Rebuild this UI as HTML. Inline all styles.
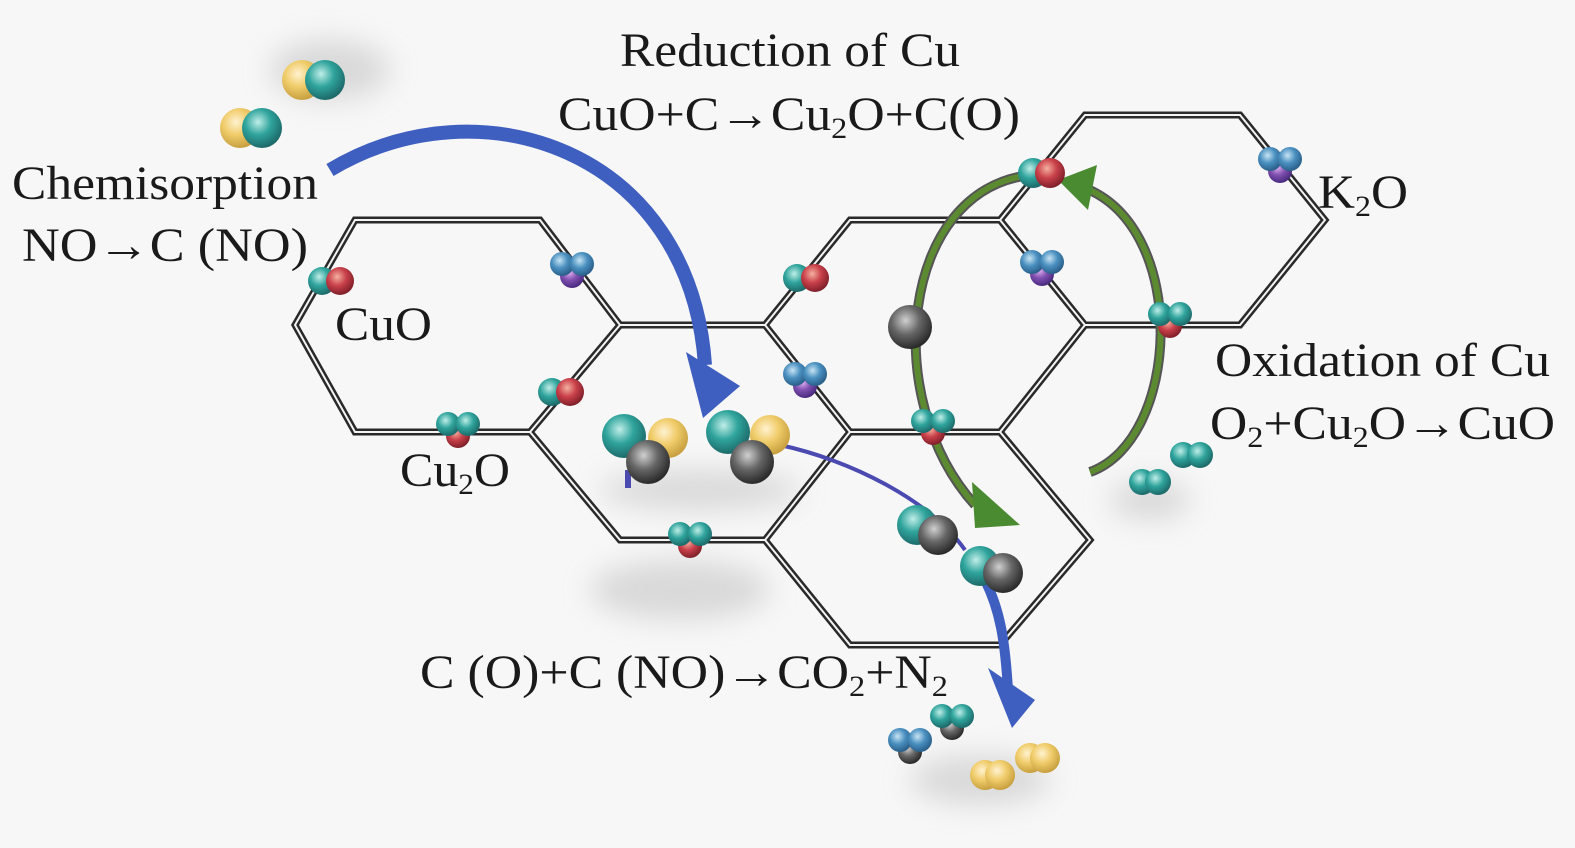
<!DOCTYPE html>
<html><head><meta charset="utf-8"><style>
html,body{margin:0;padding:0;background:#f7f7f7;}
svg{display:block}
text{font-family:"Liberation Serif",serif;font-size:48px;fill:#1a1a1a}
</style></head><body>
<svg width="1575" height="848" viewBox="0 0 1575 848" xmlns="http://www.w3.org/2000/svg">
<defs>
<radialGradient id="t" cx="40%" cy="35%" r="65%"><stop offset="0" stop-color="#bfeee8"/><stop offset=".5" stop-color="#2fa49c"/><stop offset="1" stop-color="#1d6a6a"/></radialGradient>
<radialGradient id="r" cx="40%" cy="35%" r="65%"><stop offset="0" stop-color="#f5b0a0"/><stop offset=".5" stop-color="#c9404a"/><stop offset="1" stop-color="#80202a"/></radialGradient>
<radialGradient id="b" cx="40%" cy="35%" r="65%"><stop offset="0" stop-color="#c8e4f4"/><stop offset=".5" stop-color="#4a90c0"/><stop offset="1" stop-color="#2a5f8a"/></radialGradient>
<radialGradient id="p" cx="40%" cy="35%" r="65%"><stop offset="0" stop-color="#e0b0f0"/><stop offset=".5" stop-color="#8050b0"/><stop offset="1" stop-color="#4a2a80"/></radialGradient>
<radialGradient id="y" cx="40%" cy="35%" r="65%"><stop offset="0" stop-color="#fff2d0"/><stop offset=".5" stop-color="#f0cc6a"/><stop offset="1" stop-color="#c8a040"/></radialGradient>
<radialGradient id="g" cx="40%" cy="35%" r="65%"><stop offset="0" stop-color="#d0d0d0"/><stop offset=".5" stop-color="#666"/><stop offset="1" stop-color="#2a2a2a"/></radialGradient>
<filter id="bl"><feGaussianBlur stdDeviation="14"/></filter>
<g id="hc" fill="none">
<path d="M295,325 L355,220 L540,220 L620,325 L530,432 L355,432 Z"/>
<path d="M620,325 L765,325 L850,432 L765,540 L620,540 L530,432"/>
<path d="M765,325 L850,220 L1000,220 L1085,325 L1000,432 L850,432"/>
<path d="M1000,220 L1085,115 L1240,115 L1325,220 L1240,325 L1085,325"/>
<path d="M1000,432 L1090,540 L1000,645 L850,645 L765,540"/>
</g>
<g id="bp"><circle cx="0" cy="8" r="12" fill="url(#p)"/><circle cx="-10" cy="-4" r="12" fill="url(#b)"/><circle cx="10" cy="-4" r="12" fill="url(#b)"/></g>
<g id="tr"><circle cx="0" cy="8" r="12" fill="url(#r)"/><circle cx="-10" cy="-4" r="12" fill="url(#t)"/><circle cx="10" cy="-4" r="12" fill="url(#t)"/></g>
</defs>
<!-- shadows -->
<g fill="#ccc" filter="url(#bl)" opacity=".7">
<ellipse cx="330" cy="70" rx="60" ry="30"/><ellipse cx="680" cy="590" rx="90" ry="30"/>
<ellipse cx="1150" cy="500" rx="40" ry="20"/><ellipse cx="980" cy="780" rx="70" ry="25"/>
<ellipse cx="700" cy="490" rx="100" ry="20"/>
</g>
<!-- honeycomb -->
<use href="#hc" stroke="#2a2a2a" stroke-width="7"/>
<use href="#hc" stroke="#f4f4f4" stroke-width="2"/>
<!-- blue arrows -->
<path d="M330,170 C480,80 690,150 705,365" fill="none" stroke="#3f5fc0" stroke-width="14"/>
<polygon points="686,352 740,386 703,418" fill="#3f5fc0"/>
<path d="M780,445 C850,460 930,500 965,550" fill="none" stroke="#4a4ab0" stroke-width="4"/>
<path d="M985,580 C1000,610 1005,640 1008,690" fill="none" stroke="#3f5fc0" stroke-width="10"/>
<polygon points="988,668 1035,700 1012,728" fill="#3f5fc0"/>
<path d="M628,470 L628,488" stroke="#4a4ab0" stroke-width="6"/>
<!-- green loop -->
<path d="M1090,472 C1180,440 1190,230 1085,188" fill="none" stroke="#555" stroke-width="10"/>
<path d="M1090,472 C1180,440 1190,230 1085,188" fill="none" stroke="#5b8a30" stroke-width="6"/>
<polygon points="1097,165 1058,180 1088,210" fill="#4a8a30"/>
<path d="M1030,175 C900,190 880,400 975,505" fill="none" stroke="#555" stroke-width="10"/>
<path d="M1030,175 C900,190 880,400 975,505" fill="none" stroke="#5b8a30" stroke-width="6"/>
<polygon points="972,482 1020,525 975,528" fill="#4a8a30"/>
<!-- molecules -->
<g>
<circle cx="302" cy="80" r="20" fill="url(#y)"/><circle cx="325" cy="80" r="20" fill="url(#t)"/>
<circle cx="240" cy="128" r="20" fill="url(#y)"/><circle cx="262" cy="128" r="20" fill="url(#t)"/>
<circle cx="322" cy="281" r="14" fill="url(#t)"/><circle cx="340" cy="281" r="14" fill="url(#r)"/>
<circle cx="552" cy="392" r="14" fill="url(#t)"/><circle cx="570" cy="392" r="14" fill="url(#r)"/>
<circle cx="797" cy="278" r="14" fill="url(#t)"/><circle cx="815" cy="278" r="14" fill="url(#r)"/>
<circle cx="1033" cy="173" r="15" fill="url(#t)"/><circle cx="1050" cy="173" r="15" fill="url(#r)"/>
<use href="#bp" x="572" y="268"/><use href="#bp" x="805" y="378"/><use href="#bp" x="1042" y="266"/><use href="#bp" x="1280" y="163"/>
<use href="#tr" x="458" y="428"/><use href="#tr" x="690" y="538"/><use href="#tr" x="933" y="425"/><use href="#tr" x="1170" y="318"/>
<circle cx="910" cy="327" r="22" fill="url(#g)"/>
<circle cx="668" cy="438" r="20" fill="url(#y)"/><circle cx="624" cy="436" r="22" fill="url(#t)"/><circle cx="648" cy="462" r="22" fill="url(#g)"/>
<circle cx="770" cy="435" r="20" fill="url(#y)"/><circle cx="728" cy="432" r="22" fill="url(#t)"/><circle cx="752" cy="462" r="22" fill="url(#g)"/>
<circle cx="917" cy="525" r="20" fill="url(#t)"/><circle cx="938" cy="535" r="20" fill="url(#g)"/>
<circle cx="980" cy="566" r="20" fill="url(#t)"/><circle cx="1003" cy="573" r="20" fill="url(#g)"/>
<circle cx="910" cy="752" r="12" fill="url(#g)"/><circle cx="900" cy="740" r="12" fill="url(#b)"/><circle cx="920" cy="740" r="12" fill="url(#b)"/>
<circle cx="952" cy="728" r="12" fill="url(#g)"/><circle cx="942" cy="716" r="12" fill="url(#t)"/><circle cx="962" cy="716" r="12" fill="url(#t)"/>
<circle cx="985" cy="775" r="15" fill="url(#y)"/><circle cx="1000" cy="775" r="15" fill="url(#y)"/>
<circle cx="1030" cy="758" r="15" fill="url(#y)"/><circle cx="1045" cy="758" r="15" fill="url(#y)"/>
<circle cx="1142" cy="482" r="13" fill="url(#t)"/><circle cx="1158" cy="482" r="13" fill="url(#t)"/>
<circle cx="1183" cy="455" r="13" fill="url(#t)"/><circle cx="1200" cy="455" r="13" fill="url(#t)"/>
</g>
<!-- text -->
<text x="620" y="66" textLength="340" lengthAdjust="spacingAndGlyphs">Reduction of Cu</text>
<text x="558" y="130" textLength="462" lengthAdjust="spacingAndGlyphs">CuO+C→Cu<tspan font-size="30" dy="8">2</tspan><tspan dy="-8">O+C(O)</tspan></text>
<text x="12" y="199" textLength="306" lengthAdjust="spacingAndGlyphs">Chemisorption</text>
<text x="22" y="261" textLength="286" lengthAdjust="spacingAndGlyphs">NO→C (NO)</text>
<text x="335" y="340" textLength="97" lengthAdjust="spacingAndGlyphs">CuO</text>
<text x="400" y="486" textLength="110" lengthAdjust="spacingAndGlyphs">Cu<tspan font-size="30" dy="8">2</tspan><tspan dy="-8">O</tspan></text>
<text x="1318" y="208" textLength="90" lengthAdjust="spacingAndGlyphs">K<tspan font-size="30" dy="8">2</tspan><tspan dy="-8">O</tspan></text>
<text x="1215" y="376" textLength="335" lengthAdjust="spacingAndGlyphs">Oxidation of Cu</text>
<text x="1210" y="439" textLength="345" lengthAdjust="spacingAndGlyphs">O<tspan font-size="30" dy="8">2</tspan><tspan dy="-8">+Cu</tspan><tspan font-size="30" dy="8">2</tspan><tspan dy="-8">O→CuO</tspan></text>
<text x="420" y="688" textLength="528" lengthAdjust="spacingAndGlyphs">C (O)+C (NO)→CO<tspan font-size="30" dy="8">2</tspan><tspan dy="-8">+N</tspan><tspan font-size="30" dy="8">2</tspan></text>
</svg>
</body></html>
